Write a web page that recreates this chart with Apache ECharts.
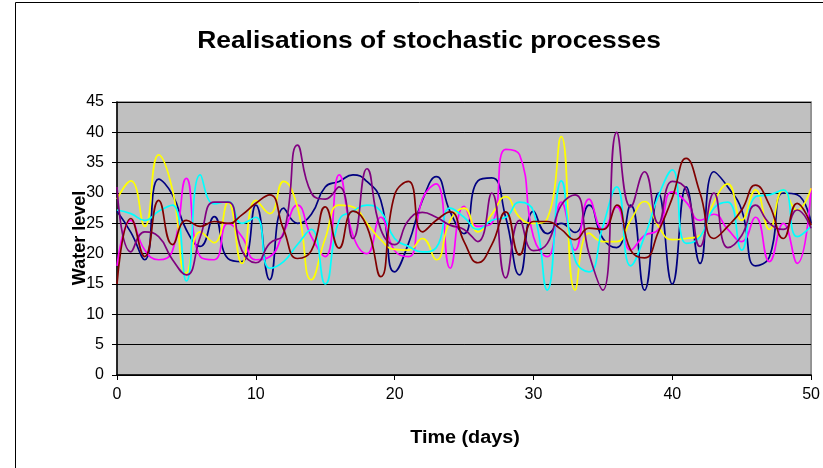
<!DOCTYPE html>
<html>
<head>
<meta charset="utf-8">
<script src="https://cdn.jsdelivr.net/npm/echarts@6/dist/echarts.min.js"></script>
<style>
html,body{margin:0;padding:0;background:#fff;}
#chart{width:823px;height:468px;}
</style>
</head>
<body>
<div id="chart"></div>
<script>
const days = [0,1,2,3,4,5,6,7,8,9,10,11,12,13,14,15,16,17,18,19,20,21,22,23,24,25,26,27,28,29,30,31,32,33,34,35,36,37,38,39,40,41,42,43,44,45,46,47,48,49,50];
const navy = [27,23.5,19,32.3,29.7,23.9,21.2,26.1,19.2,18.7,28,15.7,27.5,25,26.5,31,31.9,33,31.9,28.8,17,21.7,28.8,32.7,26.9,23.3,32,32.5,26,16.5,27,23.3,25,23.5,28,22.5,21,28,14,30,15,31,18.4,33.5,31,27.2,18,19.5,30,29.7,25];
const magenta = [18,25.5,20.6,19,20.5,32.4,19.5,19,25,22.8,19,19.5,23.5,28,22.8,19.5,33,23,20,26,20.5,19.5,29,31.5,17.6,27.8,24.5,25,37.2,36.3,22.8,19.5,28.5,20.6,29,24,27.7,20.6,23,24,30.2,28.5,25.5,26.5,24,22,26,18.7,25,18.4,30.8];
const yellow = [29,32,24.5,36.3,30.5,16.8,23.6,21.8,28.5,18.4,28.8,26.6,31.9,27.7,15.7,22.5,28,27.7,25,22.3,20.7,20.6,22.5,19,25.5,27.5,23.6,26.5,29.4,26,25,25.8,39.3,14,23.4,22,22,25.5,28.6,24.5,22.3,22.5,23,28.5,31.5,25.5,30.5,24,30.5,27.2,30.8];
const cyan = [27.2,26.6,25.5,27,28,15.5,33,28.2,28.6,25,26,17.6,18.7,21.5,24,15,25.5,27,28,27,22.5,21.2,20.3,21,27.5,26,24,25.5,26,28.5,27,14,32,19,17,24.5,31,18,22.8,29.5,33.8,21.7,22.8,27.5,28.5,20.6,29.4,29.7,30.5,22.8,24.5];
const purple = [31,20.3,23.6,22.8,19,16.5,22.8,28.5,28.5,20.5,18.5,21.7,23.3,37.9,30,29,31,22.5,34,24,21.5,25.5,26.8,26,24.7,24,22,30,16,25.5,20.5,21.7,28,29.7,20,14,40,27.7,33.5,25,31.9,30.5,21.2,30,21,23,28,25,24,27.2,24.2];
const brown = [15,25.8,19.5,28.8,21.5,25.5,24.5,25.3,25,26.4,28.3,29.7,24,19.2,20.5,27.7,20.9,27,24.5,16.2,29.7,31.9,23.6,25.5,26.9,22,18.5,21.5,26.9,19.8,25.3,25.3,24,22.3,24.2,24,28,20.6,19.3,23.6,29.2,35.7,30,22.5,24.5,27.2,31.3,28,22.5,28.3,24.7];
const xTicks = [0,10,20,30,40,50];
const yTicks = [0,5,10,15,20,25,30,35,40,45];
const titleText = 'Realisations of stochastic processes';
const xName = 'Time (days)';
const yName = 'Water level';

const seriesDefs = [
  {name:'Series1', data:navy, color:'#000080'},
  {name:'Series2', data:magenta, color:'#FF00FF'},
  {name:'Series3', data:yellow, color:'#FFFF00'},
  {name:'Series4', data:cyan, color:'#00FFFF'},
  {name:'Series5', data:purple, color:'#800080'},
  {name:'Series6', data:brown, color:'#800000'}
];

const chart = echarts.init(document.getElementById('chart'), null, {renderer:'canvas'});
const font = 'Liberation Sans, Arial, sans-serif';
chart.setOption({
  animation:false,
  backgroundColor:'#ffffff',
  graphic:[
    {type:'rect', left:13, top:0, shape:{x:0,y:0,width:830,height:466}, style:{fill:'none', stroke:'#000', lineWidth:1}, z:-1, silent:true},
    {type:'text', x:429, y:41, scaleX:1.1, style:{text:titleText, font:'bold 24px ' + font, fill:'#000', align:'center', verticalAlign:'middle'}, silent:true},
    {type:'text', x:465, y:438, scaleX:1.1, style:{text:xName, font:'bold 18px ' + font, fill:'#000', align:'center', verticalAlign:'middle'}, silent:true},
    {type:'text', x:80, y:238, rotation:Math.PI/2, style:{text:yName, font:'bold 18px ' + font, fill:'#000', align:'center', verticalAlign:'middle'}, silent:true}
  ],
  grid:{left:117, right:11, top:102, bottom:93, show:true, backgroundColor:'#C0C0C0', borderColor:'#808080', borderWidth:1.5},
  xAxis:{
    type:'value', min:0, max:50, interval:10,
    axisLine:{show:true, onZero:false, lineStyle:{color:'#000', width:1.5}},
    axisTick:{show:true, length:5, inside:false, lineStyle:{color:'#000'}},
    axisLabel:{fontFamily:font, fontSize:16, color:'#000', margin:12},
    splitLine:{show:false}
  },
  yAxis:{
    type:'value', min:0, max:45, interval:5,
    axisLine:{show:true, lineStyle:{color:'#000', width:1.5}},
    axisTick:{show:true, length:5, inside:false, lineStyle:{color:'#000'}},
    axisLabel:{fontFamily:font, fontSize:16, color:'#000', margin:13},
    splitLine:{show:true, lineStyle:{color:'#000', width:1}}
  },
  series: seriesDefs.map(s => ({
    name:s.name, type:'line', smooth:0.5, showSymbol:false, symbol:'none',
    data: days.map((d,i)=>[d, s.data[i]]),
    lineStyle:{color:s.color, width:1.7},
    itemStyle:{color:s.color},
    z:3
  }))
});
</script>
</body>
</html>
